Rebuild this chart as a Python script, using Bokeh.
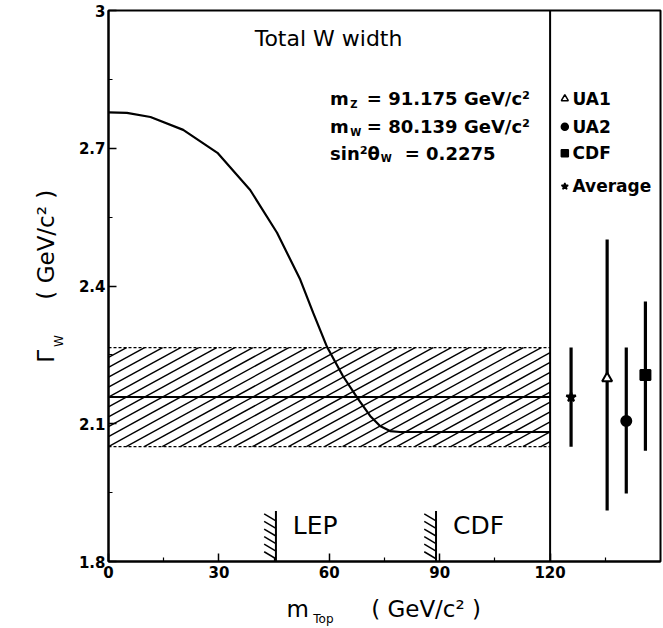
import numpy as np
from bokeh.plotting import figure
from bokeh.models import Label, FixedTicker, Span, ColumnDataSource, LinearAxis
from bokeh.embed import file_html
from bokeh.resources import INLINE

# ---- data ----
mtop = [0, 5, 11.4, 20.3, 29.6, 38.5, 45.8, 52.1, 55.6, 59.4, 63.7, 67.8, 71.1, 73.8, 76.5, 79.2, 120]
gamma_w = [2.778, 2.777, 2.768, 2.740, 2.690, 2.609, 2.516, 2.414, 2.342, 2.267,
           2.204, 2.154, 2.117, 2.095, 2.084, 2.082, 2.082]

experiments = ["Average", "UA1", "UA2", "CDF"]
exp_x = [125.7, 135.5, 140.7, 145.9]
exp_val = [2.158, 2.199, 2.106, 2.206]
exp_lo = [2.050, 1.911, 1.948, 2.041]
exp_hi = [2.266, 2.501, 2.266, 2.366]
exp_marker = ["star", "triangle", "circle", "square"]
exp_fill = ["black", "white", "black", "black"]

limits_x = [45.5, 89.0]
limit_names = ["LEP", "CDF"]
limit_top = 1.91

x_ticks = [0, 30, 60, 90, 120]
x_minor = [15, 45, 75, 105, 135]
y_ticks = [1.8, 2.1, 2.4, 2.7, 3.0]
y_minor = [1.95, 2.25, 2.55, 2.85]

FONT = "DejaVu Sans"

p = figure(width=663, height=628, x_range=(0, 150), y_range=(1.8, 3.0),
           output_backend="svg", toolbar_location=None,
           min_border_left=108, min_border_right=3, min_border_top=10, min_border_bottom=65)
p.title.visible = False
p.xgrid.visible = False
p.ygrid.visible = False
p.outline_line_color = "black"
p.outline_line_width = 2
p.background_fill_color = "white"

for ax in (p.xaxis[0], p.yaxis[0]):
    ax.axis_line_width = 2
    ax.major_tick_in = 8
    ax.major_tick_out = 0
    ax.minor_tick_in = 4
    ax.minor_tick_out = 0
    ax.major_tick_line_width = 1.5
    ax.minor_tick_line_width = 1.2
    ax.major_label_text_font = FONT
    ax.major_label_text_font_style = "bold"
    ax.major_label_text_font_size = "15px"
    ax.major_label_text_color = "black"
    ax.major_label_standoff = 3

p.xaxis.ticker = FixedTicker(ticks=x_ticks, minor_ticks=x_minor)
p.yaxis.ticker = FixedTicker(ticks=y_ticks, minor_ticks=y_minor)
p.yaxis.major_label_overrides = {3.0: "3", 1.8: "1.8", 2.1: "2.1", 2.4: "2.4", 2.7: "2.7"}
p.xaxis.major_label_standoff = 4


def text_axis(ticks, labels, size, standoff, orientation="horizontal"):
    ax = LinearAxis(ticker=FixedTicker(ticks=ticks, minor_ticks=[]),
                    major_label_overrides=dict(zip(ticks, labels)))
    ax.axis_line_color = None
    ax.major_tick_line_color = None
    ax.minor_tick_line_color = None
    ax.major_tick_in = 0
    ax.major_tick_out = 0
    ax.minor_tick_in = 0
    ax.minor_tick_out = 0
    ax.major_label_text_font = FONT
    ax.major_label_text_font_size = size
    ax.major_label_text_color = "black"
    ax.major_label_standoff = standoff
    ax.major_label_orientation = orientation
    return ax


# x axis title  "m_Top ( GeV/c² )"
p.add_layout(text_axis([51.4, 86.3], ["m", "( GeV/c² )"], "23px", 15), "below")
p.add_layout(text_axis([58.4], ["Top"], "12px", -13), "below")
# y axis title  "Γ_W ( GeV/c² )"
p.add_layout(text_axis([2.280], ["W"], "12px", 9, "parallel"), "left")
p.add_layout(text_axis([2.247, 2.490], ["Γ", "( GeV/c² )"], "23px", -10, "parallel"), "left")

# ---- hatched band from the average measurement ----
avg_i = experiments.index("Average")
band_lo, band_hi, band_mid = exp_lo[avg_i], exp_hi[avg_i], exp_val[avg_i]
x_left, x_right = x_ticks[0], x_ticks[-1]
slope = 0.0044          # hatch slope (y units per x unit)
step = 4.9              # hatch spacing along x
run = (band_hi - band_lo) / slope
hx0, hy0, hx1, hy1 = [], [], [], []
for c in np.arange(x_left - run, x_right, step):
    xa, xb = max(c, x_left), min(c + run, x_right)
    if xb <= xa:
        continue
    hx0.append(xa); hy0.append(band_lo + (xa - c) * slope)
    hx1.append(xb); hy1.append(band_lo + (xb - c) * slope)
p.segment(hx0, hy0, hx1, hy1, line_color="black", line_width=1.4)
p.segment([x_left, x_left], [band_lo, band_hi], [x_right, x_right], [band_lo, band_hi],
          line_color="black", line_width=1.3, line_dash="3 2")
p.segment([x_left], [band_mid], [x_right], [band_mid], line_color="black", line_width=2)

# ---- theory curve ----
p.line(mtop, gamma_w, line_color="black", line_width=2.2)

# ---- divider ----
p.add_layout(Span(location=x_ticks[-1], dimension="height", line_color="black", line_width=2))

# ---- measurements ----
p.segment(exp_x, exp_lo, exp_x, exp_hi, line_color="black", line_width=3.2)
src = ColumnDataSource(dict(x=exp_x, y=exp_val, m=exp_marker, f=exp_fill))
p.scatter("x", "y", marker="m", fill_color="f", line_color="black", line_width=2, size=10, source=src)

# ---- legend (drawn by hand) ----
leg_names = ["UA1", "UA2", "CDF", "Average"]
leg_y = [2.808, 2.747, 2.689, 2.617]
leg_src = ColumnDataSource(dict(
    x=[124.0] * 4, y=leg_y,
    m=[exp_marker[experiments.index(n)] for n in leg_names],
    f=[exp_fill[experiments.index(n)] for n in leg_names]))
p.scatter("x", "y", marker="m", fill_color="f", line_color="black", line_width=1.5, size=7, source=leg_src)


def txt(x, y, s, size="18px", style="bold", **kw):
    p.add_layout(Label(x=x, y=y, text=s, text_font=FONT, text_font_size=size, text_color="black",
                       text_font_style=style, text_baseline="middle", text_align="left", **kw))


for n, yy in zip(leg_names, leg_y):
    txt(126.1, yy, n, size="17px")

# ---- lower limits LEP / CDF ----
for lx, name in zip(limits_x, limit_names):
    p.segment([lx], [y_ticks[0]], [lx], [limit_top], line_color="black", line_width=2)
    lv = np.arange(6) * 0.0165 + 1.806
    p.segment([lx - 3.2] * 6, list(lv + 0.0152), [lx] * 6, list(lv), line_color="black", line_width=1.5)
    txt(lx + 4.6, 1.878, name, size="25px", style="normal")

# ---- title and parameters ----
p.add_layout(Label(x=59.8, y=2.940, text="Total W width", text_font=FONT, text_font_size="22px",
                   text_color="black", text_baseline="middle", text_align="center"))

par_y = [2.808, 2.747, 2.689]
txt(60.2, par_y[0], "m")
txt(65.7, par_y[0] - 0.012, "Z", size="10px")
txt(70.2, par_y[0], "= 91.175 GeV/c²")
txt(60.2, par_y[1], "m")
txt(65.7, par_y[1] - 0.012, "W", size="10px")
txt(70.2, par_y[1], "= 80.139 GeV/c²")
txt(60.2, par_y[2], "sin²θ")
txt(74.0, par_y[2] - 0.012, "W", size="10px")
txt(80.5, par_y[2], "= 0.2275")

open("out.html", "w").write(file_html(p, INLINE))
